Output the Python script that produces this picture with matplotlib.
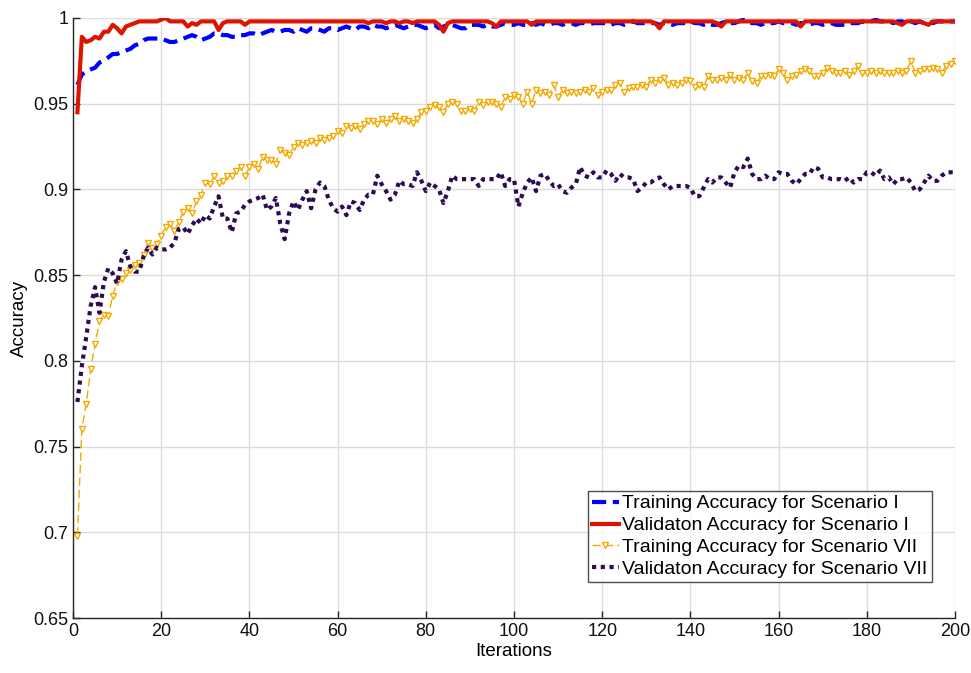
import matplotlib
matplotlib.use("Agg")
import matplotlib.pyplot as plt
from matplotlib.ticker import FuncFormatter

iterations = list(range(1, 201))

train_I = [
    0.961, 0.967, 0.969, 0.970, 0.971, 0.974, 0.975, 0.977, 0.979, 0.979,
    0.980, 0.981, 0.982, 0.984, 0.985, 0.987, 0.988, 0.988, 0.988, 0.988,
    0.987, 0.986, 0.986, 0.987, 0.988, 0.989, 0.990, 0.989, 0.987, 0.988,
    0.989, 0.991, 0.991, 0.990, 0.990, 0.989, 0.989, 0.990, 0.990, 0.991,
    0.991, 0.990, 0.991, 0.992, 0.993, 0.992, 0.992, 0.993, 0.993, 0.992,
    0.994, 0.993, 0.992, 0.994, 0.994, 0.993, 0.992, 0.994, 0.994, 0.993,
    0.994, 0.995, 0.994, 0.993, 0.995, 0.995, 0.994, 0.996, 0.995, 0.995,
    0.994, 0.995, 0.996, 0.995, 0.994, 0.995, 0.996, 0.996, 0.995, 0.994,
    0.995, 0.996, 0.994, 0.995, 0.996, 0.996, 0.995, 0.994, 0.994, 0.996,
    0.996, 0.996, 0.995, 0.996, 0.995, 0.995, 0.996, 0.997, 0.996, 0.996,
    0.997, 0.996, 0.996, 0.997, 0.996, 0.997, 0.996, 0.996, 0.997, 0.997,
    0.996, 0.997, 0.997, 0.996, 0.997, 0.997, 0.996, 0.997, 0.997, 0.997,
    0.997, 0.996, 0.997, 0.997, 0.996, 0.997, 0.998, 0.997, 0.997, 0.997,
    0.997, 0.997, 0.996, 0.997, 0.997, 0.996, 0.997, 0.997, 0.997, 0.998,
    0.997, 0.997, 0.996, 0.997, 0.996, 0.996, 0.997, 0.998, 0.997, 0.997,
    0.998, 0.999, 0.998, 0.997, 0.997, 0.996, 0.997, 0.997, 0.997, 0.998,
    0.997, 0.997, 0.997, 0.996, 0.997, 0.997, 0.996, 0.997, 0.997, 0.996,
    0.997, 0.997, 0.996, 0.996, 0.996, 0.997, 0.997, 0.997, 0.998, 0.997,
    0.998, 0.999, 0.998, 0.998, 0.998, 0.997, 0.998, 0.998, 0.997, 0.998,
    0.997, 0.998, 0.997, 0.998, 0.997, 0.998, 0.998, 0.998, 0.998, 0.998,
]

val_I = [
    0.945, 0.989, 0.986, 0.987, 0.989, 0.988, 0.992, 0.992, 0.996, 0.994,
    0.991, 0.995, 0.996, 0.997, 0.998, 0.998, 0.998, 0.998, 0.998, 0.999,
    1.000, 0.998, 0.998, 0.998, 0.998, 0.995, 0.997, 0.996, 0.998, 0.998,
    0.998, 0.998, 0.993, 0.997, 0.998, 0.998, 0.998, 0.998, 0.996, 0.998,
    0.998, 0.998, 0.998, 0.998, 0.998, 0.998, 0.998, 0.998, 0.998, 0.998,
    0.998, 0.998, 0.998, 0.998, 0.998, 0.998, 0.998, 0.998, 0.998, 0.998,
    0.998, 0.998, 0.998, 0.998, 0.998, 0.998, 0.997, 0.998, 0.998, 0.998,
    0.997, 0.998, 0.998, 0.997, 0.998, 0.998, 0.997, 0.998, 0.998, 0.998,
    0.998, 0.998, 0.996, 0.992, 0.997, 0.998, 0.998, 0.998, 0.998, 0.998,
    0.998, 0.998, 0.998, 0.998, 0.997, 0.995, 0.998, 0.998, 0.998, 0.998,
    0.998, 0.998, 0.998, 0.996, 0.998, 0.998, 0.998, 0.998, 0.998, 0.998,
    0.998, 0.998, 0.998, 0.998, 0.998, 0.998, 0.998, 0.998, 0.998, 0.998,
    0.998, 0.998, 0.998, 0.998, 0.998, 0.998, 0.998, 0.998, 0.998, 0.998,
    0.998, 0.997, 0.994, 0.998, 0.998, 0.998, 0.998, 0.998, 0.998, 0.998,
    0.998, 0.998, 0.998, 0.998, 0.998, 0.997, 0.995, 0.998, 0.998, 0.998,
    0.998, 0.998, 0.998, 0.998, 0.998, 0.998, 0.998, 0.998, 0.998, 0.998,
    0.998, 0.998, 0.998, 0.998, 0.995, 0.998, 0.998, 0.998, 0.998, 0.998,
    0.998, 0.998, 0.998, 0.998, 0.998, 0.998, 0.998, 0.998, 0.998, 0.998,
    0.998, 0.998, 0.998, 0.998, 0.998, 0.998, 0.997, 0.996, 0.998, 0.998,
    0.998, 0.998, 0.997, 0.996, 0.998, 0.998, 0.998, 0.998, 0.998, 0.998,
]

train_VII = [
    0.698, 0.760, 0.775, 0.795, 0.810, 0.823, 0.827, 0.826, 0.838, 0.846,
    0.848, 0.851, 0.853, 0.856, 0.857, 0.862, 0.869, 0.866, 0.868, 0.873,
    0.878, 0.880, 0.876, 0.881, 0.887, 0.889, 0.886, 0.893, 0.897, 0.904,
    0.903, 0.908, 0.904, 0.905, 0.908, 0.908, 0.911, 0.913, 0.908, 0.913,
    0.915, 0.912, 0.919, 0.917, 0.917, 0.915, 0.923, 0.921, 0.920, 0.925,
    0.927, 0.926, 0.927, 0.928, 0.927, 0.930, 0.929, 0.930, 0.931, 0.934,
    0.933, 0.937, 0.936, 0.937, 0.935, 0.938, 0.940, 0.940, 0.938, 0.941,
    0.939, 0.941, 0.943, 0.940, 0.941, 0.940, 0.939, 0.941, 0.945, 0.946,
    0.948, 0.949, 0.948, 0.945, 0.950, 0.951, 0.950, 0.946, 0.946, 0.947,
    0.946, 0.951, 0.949, 0.951, 0.951, 0.950, 0.948, 0.954, 0.953, 0.955,
    0.954, 0.950, 0.957, 0.950, 0.958, 0.956, 0.957, 0.955, 0.961, 0.954,
    0.958, 0.956, 0.957, 0.956, 0.957, 0.958, 0.957, 0.959, 0.955, 0.957,
    0.958, 0.958, 0.961, 0.962, 0.957, 0.959, 0.960, 0.960, 0.961, 0.960,
    0.964, 0.962, 0.964, 0.965, 0.961, 0.962, 0.961, 0.962, 0.964, 0.963,
    0.960, 0.961, 0.960, 0.966, 0.964, 0.964, 0.965, 0.964, 0.967, 0.964,
    0.965, 0.964, 0.968, 0.963, 0.962, 0.966, 0.966, 0.967, 0.966, 0.970,
    0.968, 0.964, 0.966, 0.967, 0.969, 0.970, 0.969, 0.966, 0.966, 0.968,
    0.971, 0.969, 0.968, 0.968, 0.969, 0.967, 0.969, 0.972, 0.968, 0.968,
    0.969, 0.968, 0.969, 0.968, 0.968, 0.968, 0.969, 0.968, 0.969, 0.975,
    0.968, 0.969, 0.970, 0.970, 0.971, 0.970, 0.968, 0.972, 0.973, 0.975,
]

val_VII = [
    0.776, 0.797, 0.814, 0.832, 0.843, 0.828, 0.846, 0.854, 0.851, 0.845,
    0.859, 0.864, 0.855, 0.852, 0.852, 0.861, 0.866, 0.862, 0.866, 0.865,
    0.865, 0.866, 0.869, 0.877, 0.878, 0.874, 0.879, 0.883, 0.880, 0.885,
    0.883, 0.890, 0.896, 0.883, 0.883, 0.875, 0.886, 0.887, 0.891, 0.893,
    0.894, 0.895, 0.897, 0.888, 0.890, 0.895, 0.880, 0.871, 0.886, 0.893,
    0.888, 0.894, 0.899, 0.889, 0.900, 0.904, 0.902, 0.894, 0.889, 0.887,
    0.890, 0.885, 0.893, 0.892, 0.888, 0.894, 0.897, 0.897, 0.908, 0.903,
    0.899, 0.894, 0.897, 0.905, 0.903, 0.903, 0.902, 0.910, 0.905, 0.899,
    0.904, 0.902, 0.900, 0.892, 0.899, 0.908, 0.906, 0.906, 0.906, 0.906,
    0.906, 0.902, 0.906, 0.906, 0.906, 0.906, 0.910, 0.902, 0.906, 0.906,
    0.890, 0.898, 0.904, 0.907, 0.899, 0.908, 0.909, 0.905, 0.902, 0.903,
    0.899, 0.898, 0.901, 0.903, 0.913, 0.908, 0.907, 0.910, 0.907, 0.907,
    0.911, 0.909, 0.905, 0.909, 0.907, 0.907, 0.906, 0.899, 0.901, 0.904,
    0.904, 0.906, 0.907, 0.903, 0.900, 0.902, 0.902, 0.902, 0.902, 0.901,
    0.896, 0.896, 0.901, 0.906, 0.904, 0.907, 0.907, 0.904, 0.901, 0.910,
    0.914, 0.913, 0.918, 0.909, 0.906, 0.906, 0.908, 0.906, 0.906, 0.910,
    0.909, 0.909, 0.905, 0.903, 0.906, 0.909, 0.909, 0.913, 0.912, 0.907,
    0.907, 0.906, 0.906, 0.906, 0.905, 0.907, 0.904, 0.906, 0.906, 0.910,
    0.910, 0.908, 0.911, 0.906, 0.907, 0.903, 0.906, 0.906, 0.907, 0.904,
    0.899, 0.900, 0.904, 0.908, 0.905, 0.905, 0.908, 0.910, 0.910, 0.910,
]

labels = [
    "Training Accuracy for Scenario I",
    "Validaton Accuracy for Scenario I",
    "Training Accuracy for Scenario VII",
    "Validaton Accuracy for Scenario VII",
]
x_ticks = [0, 20, 40, 60, 80, 100, 120, 140, 160, 180, 200]
y_ticks = [0.65, 0.7, 0.75, 0.8, 0.85, 0.9, 0.95, 1.0]

plt.rcParams['font.family'] = ['Liberation Sans', 'DejaVu Sans']

fig = plt.figure(figsize=(9.71, 6.73), dpi=100)
ax = fig.add_axes([0.0752, 0.0817, 0.9083, 0.8916])

ax.plot(iterations, train_I, color='#0000ff', lw=3.0, linestyle=(0, (3.4, 1.6)),
        label=labels[0], zorder=3)
ax.plot(iterations, val_I, color='#dd1500', lw=3.0, linestyle='-',
        label=labels[1], zorder=4)
ax.plot(iterations, train_VII, color='#f2a900', lw=1.0, linestyle=(0, (6, 3)),
        marker='v', markersize=4.5, markerfacecolor='white', markeredgecolor='#f2a900',
        markeredgewidth=1.0, label=labels[2], zorder=2)
ax.plot(iterations, val_VII, color='#2e0c52', lw=3.0, linestyle=(0, (1, 1.1)),
        label=labels[3], zorder=2)

ax.set_xlim(0, 200)
ax.set_ylim(0.65, 1.0)
ax.set_xticks(x_ticks)
ax.set_yticks(y_ticks)
ax.yaxis.set_major_formatter(FuncFormatter(lambda v, p: f"{v:g}"))
ax.grid(True, color='#dcdcdc', linewidth=1.0, zorder=0)
ax.set_axisbelow(True)
for s in ['top', 'right']:
    ax.spines[s].set_visible(False)
for s in ['left', 'bottom']:
    ax.spines[s].set_color('#262626')
    ax.spines[s].set_linewidth(1.0)
ax.tick_params(direction='in', length=5, width=1.0, color='#262626',
               labelsize=13, labelcolor='#111111')
ax.set_xlabel('Iterations', fontsize=13.5, labelpad=2)
ax.set_ylabel('Accuracy', fontsize=13.5, labelpad=4)

leg = ax.legend(loc='lower right', bbox_to_anchor=(0.9735, 0.06), fontsize=14,
                frameon=True, fancybox=False, edgecolor='#222222',
                handlelength=1.35, handletextpad=0.2, borderpad=0.2,
                labelspacing=0.22, borderaxespad=0)
leg.get_frame().set_linewidth(1.0)

fig.savefig('out.png', dpi=100)
